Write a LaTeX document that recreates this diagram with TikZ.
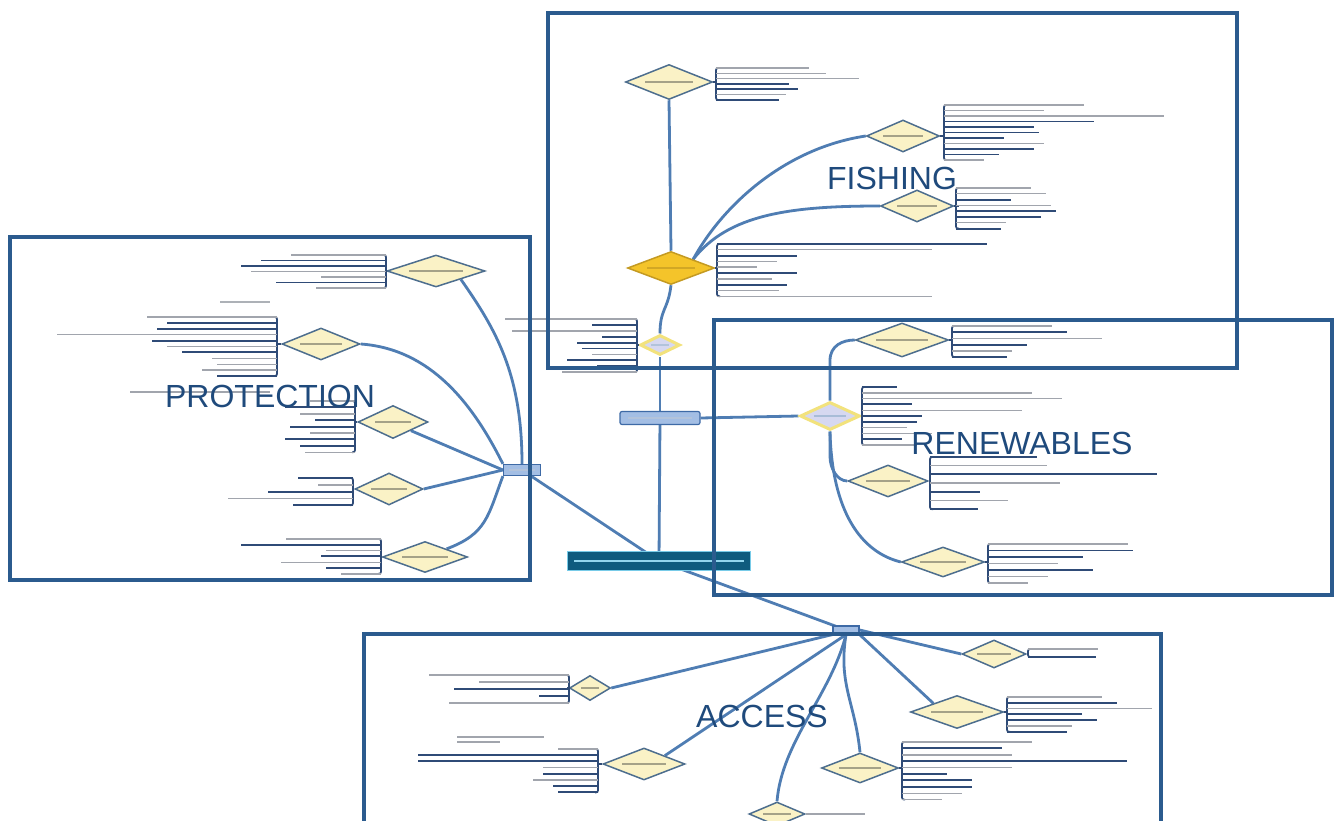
\documentclass[tikz,border=0pt]{standalone}
\usepackage{fontspec}
\setmainfont{Liberation Sans}
\usetikzlibrary{shapes.geometric,backgrounds}

\definecolor{frame}{HTML}{2B5B8E}
\definecolor{title}{HTML}{1F4A7C}
\definecolor{conn}{HTML}{4F7DB3}
\definecolor{navy}{HTML}{2F4B77}
\definecolor{dfill}{HTML}{FAF2C6}
\definecolor{dline}{HTML}{4D6E8E}
\definecolor{gold}{HTML}{F4C42A}
\definecolor{goldline}{HTML}{C49A22}
\definecolor{glow}{HTML}{F2E27C}
\definecolor{lav}{HTML}{D6D8F0}
\definecolor{hubfill}{HTML}{A3BEE4}
\definecolor{hubline}{HTML}{3E6AA6}
\definecolor{core}{HTML}{0F5B7E}
\definecolor{coreline}{HTML}{78CBE8}
\definecolor{txtgray}{HTML}{8A8F98}
\definecolor{lblgray}{HTML}{A5A288}

% leaf list: bracket x, first y, step, last y, direction (1 right, -1 left), items len/kind
\newcommand\leafgroup[6]{%
  \draw[brkst] (#1+3*#5,#2) -- (#1,#2) -- (#1,#4) -- (#1+3*#5,#4);
  \foreach \len/\kind [count=\i from 0] in {#6} {\draw[leaf\kind] (#1,#2+\i*#3) -- ++(#5*\len,0);}
}
% blurred caption inside a topic
\newcommand\topiclabel[2]{\draw[lbl] ([xshift=-#2pt]#1.center) -- ([xshift=#2pt]#1.center);}

\begin{document}
\begin{tikzpicture}[x=1pt,y=-1pt,
  topic/.style={shape=diamond, draw=dline, fill=dfill, line width=1.5pt, inner sep=0pt},
  dia/.style 2 args={topic, minimum width=#1pt, minimum height=#2pt},
  glowdia/.style 2 args={shape=diamond, draw=glow, fill=lav, line width=3pt, inner sep=0pt, minimum width=#1pt, minimum height=#2pt},
  golddia/.style 2 args={shape=diamond, draw=goldline, fill=gold, line width=1.5pt, inner sep=0pt, minimum width=#1pt, minimum height=#2pt},
  hub/.style={draw=hubline, fill=hubfill, line width=1.2pt, inner sep=0pt},
  corebox/.style={draw=coreline, fill=core, line width=1.5pt, inner sep=0pt, minimum width=183pt, minimum height=19pt},
  conn/.style={draw=conn, line width=2.8pt},
  leafl/.style={draw=txtgray!80, line width=1.4pt},
  leafd/.style={draw=navy, line width=1.9pt},
  brkst/.style={draw=navy, line width=1.7pt, rounded corners=2pt},
  lbl/.style={draw=lblgray, line width=2.2pt},
  zone/.style={draw=frame, line width=4pt},
  zonetitle/.style={text=title, font=\fontsize{32}{36}\selectfont, inner sep=0pt}]

\useasboundingbox (0,0) rectangle (1339,821);
\clip (0,0) rectangle (1339,821);

% ---------- nodes ----------
\node[corebox] (central) at (659,561) {};
\node[hub, minimum width=80pt, minimum height=13pt, rounded corners=2pt] (mid) at (660,418) {};
\node[hub, minimum width=37pt, minimum height=11pt] (phub) at (522,470) {};
\node[hub, minimum width=26pt, minimum height=8pt] (ahub) at (846,630) {};

\node[glowdia={40}{20}] (fish) at (660,345) {};
\node[glowdia={60}{28}] (ren) at (830,416) {};
\node[golddia={87}{33}] (fy) at (671,268) {};

\node[dia={87}{35}] (fp1) at (669,82) {};
\node[dia={73}{32}] (fp2) at (903,136) {};
\node[dia={73}{32}] (fp3) at (917,206) {};

\node[dia={93}{34}] (r1) at (902,340) {};
\node[dia={80}{32}] (r3) at (888,481) {};
\node[dia={83}{30}] (r4) at (943,562) {};

\node[dia={98}{32}] (p1) at (436,271) {};
\node[dia={78}{32}] (p2) at (321,344) {};
\node[dia={70}{33}] (p3) at (393,422) {};
\node[dia={68}{32}] (p4) at (389,489) {};
\node[dia={85}{31}] (p5) at (425,557) {};

\node[dia={64}{28}] (a1) at (994,654) {};
\node[dia={41}{25}] (a2) at (590,688) {};
\node[dia={93}{33}] (a3) at (957,712) {};
\node[dia={82}{32}] (a4) at (644,764) {};
\node[dia={77}{30}] (a5) at (860,768) {};
\node[dia={56}{24}] (a6) at (777,814) {};

% ---------- connectors (under the nodes) ----------
\begin{pgfonlayer}{background}
\fill[white] (0,0) rectangle (1339,821);
\draw[conn] (central.center) -- (mid.center);
\draw[conn] (mid.center) -- (fish.south);
\draw[conn] (mid.east) -- (ren.west);
\draw[conn] (central.center) -- (phub.center);
\draw[conn] (central.center) -- (ahub.center);

\draw[conn] (fish.north) .. controls +(0,-25) and +(-3,25) .. (fy.south);
\draw[conn] (fy.north) -- (fp1.south);
\draw[conn] (fy.north east) .. controls +(30,-55) and +(-80,12) .. (fp2.west);
\draw[conn] (fy.north east) .. controls +(35,-45) and +(-90,0) .. (fp3.west);

\draw[conn] (ren.north) -- ++(0,-40) .. controls +(0,-15) and +(-12,0) .. (r1.west);
\draw[conn] (ren.south) -- ++(0,25) .. controls +(0,12) and +(-10,0) .. (r3.west);
\draw[conn] (ren.south) .. controls +(2,80) and +(-40,-10) .. (r4.west);

\draw[conn] (phub.north) .. controls +(0,-90) and +(35,50) .. (p1.south east);
\draw[conn] (phub.north west) .. controls +(-30,-60) and +(70,5) .. (p2.east);
\draw[conn] (phub.west) -- (p3.south east);
\draw[conn] (phub.west) -- (p4.east);
\draw[conn] (phub.south west) .. controls +(-15,40) and +(40,-15) .. (p5.north east);

\draw[conn] (ahub.south west) -- (a2.east);
\draw[conn] (ahub.south) -- (a4.north east);
\draw[conn] (ahub.south) .. controls +(-15,60) and +(5,-60) .. (a6.north);
\draw[conn] (ahub.south) .. controls +(-8,50) and +(-5,-50) .. (a5.north);
\draw[conn] (ahub.south east) -- (a3.north west);
\draw[conn] (ahub.east) -- (a1.west);
\end{pgfonlayer}

% ---------- blurred captions ----------
\foreach \n/\w in {fp1/24,fp2/20,fp3/20,r1/26,r3/22,r4/23,p1/27,p2/21,p3/18,p4/18,p5/23,a1/17,a2/9,a3/26,a4/22,a5/21,a6/14}
  {\topiclabel{\n}{\w}}
\draw[goldline!70!gold, line width=2.2pt] ([xshift=-24pt]fy.center) -- ([xshift=24pt]fy.center);
\draw[white!60!hubline, line width=2pt] ([xshift=-9pt]fish.center) -- ([xshift=9pt]fish.center);
\draw[white!55!hubline, line width=2pt] ([xshift=-16pt]ren.center) -- ([xshift=16pt]ren.center);
\draw[coreline!80, line width=2pt] ([xshift=-85pt]central.center) -- ([xshift=85pt]central.center);
\draw[white!60!hubline, line width=1.8pt] ([xshift=-32pt]mid.center) -- ([xshift=32pt]mid.center);
\draw[white!60!hubline, line width=1.6pt] ([xshift=-13pt]phub.center) -- ([xshift=13pt]phub.center);

% ---------- leaf lists ----------
% fishing
\draw[brkst] (fp1.east) -- +(3.5,0);
\leafgroup{716}{68}{5.3}{100}{1}{93/l,110/l,143/l,73/d,82/d,70/l,63/d}
\draw[brkst] (fp2.east) -- +(4.5,0);
\leafgroup{944}{105}{5.5}{160}{1}{140/l,100/l,220/l,150/d,90/d,95/d,60/d,100/l,90/d,55/d,40/l}
\draw[brkst] (fp3.east) -- +(4.5,0);
\leafgroup{956}{188}{5.8}{228.6}{1}{75/l,90/l,55/d,95/l,100/d,85/d,50/l,45/d}
\draw[brkst] (fy.east) -- +(3,0);
\leafgroup{717}{244}{5.8}{296.2}{1}{270/d,215/l,80/d,60/l,40/l,80/d,55/l,70/d,62/l,215/l}
\draw[brkst] (fish.west) -- +(-3,0);
\leafgroup{637}{319}{5.9}{372.1}{-1}{132/l,45/d,125/l,35/d,60/d,55/d,45/l,70/d,40/d,75/l}

% renewables
\draw[brkst] (r1.east) -- +(3.5,0);
\leafgroup{952}{326}{6.2}{357}{1}{100/l,115/d,150/l,75/d,60/l,55/d}
\draw[brkst] (ren.east) -- +(2,0);
\leafgroup{862}{387}{5.8}{445}{1}{35/d,170/l,200/l,50/d,160/l,60/d,55/d,45/l,70/l,40/d,55/l}
\draw[brkst] (r3.east) -- +(2,0);
\leafgroup{930}{457}{8.7}{509.2}{1}{107/d,117/l,227/d,130/l,50/d,78/l,48/d}
\draw[brkst] (r4.east) -- +(3.5,0);
\leafgroup{988}{544}{6.5}{583}{1}{140/l,145/d,95/d,70/l,105/d,60/l,40/l}

% protection
\draw[brkst] (p1.west) -- +(-1,0);
\leafgroup{386}{255}{5.5}{288}{-1}{95/l,125/d,145/d,135/l,65/l,110/d,70/l}
\draw[lbl, txtgray!70] (220,302) -- (270,302);
\draw[brkst] (p2.west) -- +(-5,0);
\leafgroup{277}{317}{5.9}{376}{-1}{130/l,110/d,120/d,220/l,125/d,110/l,95/d,65/l,60/l,75/l,60/d}
\draw[leafl] (130,392) -- (270,392);
\draw[brkst] (p3.west) -- +(-3,0);
\leafgroup{355}{401}{6.4}{452.2}{-1}{45/l,70/d,55/l,40/d,65/d,45/l,70/d,55/d,50/l}
\draw[brkst] (p4.west) -- +(-2,0);
\leafgroup{353}{478}{6.8}{505.2}{-1}{55/d,35/l,85/d,125/l,60/d}
\draw[brkst] (p5.west) -- +(-1.5,0);
\leafgroup{381}{539}{5.8}{573.8}{-1}{95/l,140/d,55/l,60/d,100/l,55/d,40/l}

% access
\draw[brkst] (a1.east) -- +(2,0);
\leafgroup{1028}{649}{8}{657}{1}{70/l,68/d}
\draw[brkst] (a2.west) -- +(-1.5,0);
\leafgroup{569}{675}{7}{703}{-1}{140/l,90/l,115/d,30/d,120/l}
\draw[brkst] (a3.east) -- +(3.5,0);
\leafgroup{1007}{697}{5.8}{731.8}{1}{95/l,110/d,145/l,75/d,90/d,65/l,60/d}
\draw[brkst] (a4.west) -- +(-5,0);
\leafgroup{598}{749}{6.2}{792.4}{-1}{40/l,180/d,180/d,55/l,55/d,65/l,45/d,40/d}
\draw[leafl] (457,737) -- (544,737);
\draw[leafl] (457,742) -- (500,742);
\draw[brkst] (a5.east) -- +(3.5,0);
\leafgroup{902}{742}{6.4}{799.6}{1}{130/l,100/d,110/l,225/d,110/l,45/d,70/d,70/d,60/l,40/l}
\draw[leafl] (a6.east) -- +(59,0);

% ---------- zones ----------
\draw[zone] (548,13) rectangle (1237,368);
\draw[zone] (10,237) rectangle (530,580);
\draw[zone] (714,320) rectangle (1332,595);
\draw[zone] (364,634) rectangle (1161,840);

\node[zonetitle] (tfish) at (892,178) {FISHING};
\node[zonetitle] (tprot) at (270,396) {PROTECTION};
\node[zonetitle] (tren) at (1022,443) {RENEWABLES};
\node[zonetitle] (tacc) at (762,716) {ACCESS};
\end{tikzpicture}
\end{document}
